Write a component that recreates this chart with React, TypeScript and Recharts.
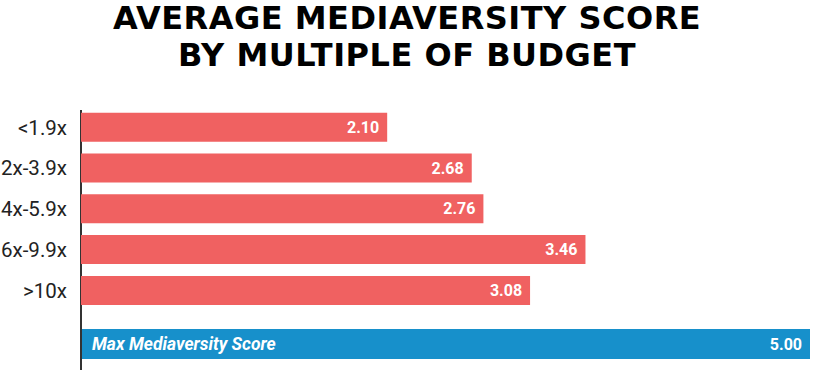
import { Bar, BarChart, LabelList, XAxis, YAxis } from 'recharts';

const categories = ['<1.9x', '2x-3.9x', '4x-5.9x', '6x-9.9x', '>10x'];
const scores = [2.1, 2.68, 2.76, 3.46, 3.08];
const maxLabel = 'Max Mediaversity Score';
const maxScore = 5.0;
const titleLines = ['AVERAGE MEDIAVERSITY SCORE', 'BY MULTIPLE OF BUDGET'];

const RED = '#f06161';
const BLUE = '#1790cb';

const budgetData = categories.map((name, i) => ({ name, value: scores[i] }));
const maxData = [{ name: maxLabel, value: maxScore }];

const fmt = (v: any) => Number(v).toFixed(2);

export default function App() {
  return (
    <div style={{ position: 'absolute', left: 0, top: 0, width: 816, height: 370, background: '#fff', overflow: 'hidden' }}>
      <div
        style={{
          position: 'absolute',
          left: 0,
          top: 0,
          width: 814,
          textAlign: 'center',
          fontFamily: '"DejaVu Sans", sans-serif',
          fontWeight: 700,
          fontSize: 32,
          lineHeight: '37px',
          letterSpacing: 0.5,
          color: '#000',
        }}
      >
        {titleLines.map((t) => (
          <div key={t}>{t}</div>
        ))}
      </div>

      {/* max score bar, its axis line runs the full height */}
      <div style={{ position: 'absolute', left: 0, top: 110 }}>
        <BarChart width={816} height={260} data={maxData} layout="vertical" margin={{ top: 0, right: 6, bottom: 0, left: 0 }}>
          <XAxis type="number" domain={[0, 5]} hide />
          <YAxis
            type="category"
            dataKey="name"
            width={81}
            axisLine={{ stroke: '#333', strokeWidth: 2 }}
            tickLine={false}
            tick={false}
            padding={{ top: 209, bottom: 1 }}
          />
          <Bar dataKey="value" fill={BLUE} barSize={30} isAnimationActive={false}>
            <LabelList
              dataKey="name"
              position="insideLeft"
              offset={11}
              fill="#fff"
              style={{ fontFamily: 'Roboto, sans-serif', fontSize: 17.5, fontWeight: 700, fontStyle: 'italic' }}
            />
            <LabelList
              dataKey="value"
              position="insideRight"
              offset={8}
              formatter={fmt}
              fill="#fff"
              style={{ fontFamily: 'Roboto, sans-serif', fontSize: 16, fontWeight: 700 }}
            />
          </Bar>
        </BarChart>
      </div>

      <div style={{ position: 'absolute', left: 0, top: 107 }}>
        <BarChart width={816} height={204} data={budgetData} layout="vertical" barCategoryGap="14%" margin={{ top: 0, right: 6, bottom: 0, left: 0 }}>
          <XAxis type="number" domain={[0, 5]} hide />
          <YAxis
            type="category"
            dataKey="name"
            width={81}
            axisLine={false}
            tickLine={false}
            tickSize={0}
            tickMargin={14}
            tick={{ fill: '#222', fontSize: 20.5, fontFamily: 'Roboto, sans-serif' }}
          />
          <Bar dataKey="value" fill={RED} isAnimationActive={false}>
            <LabelList
              dataKey="value"
              position="insideRight"
              offset={8}
              formatter={fmt}
              fill="#fff"
              style={{ fontFamily: 'Roboto, sans-serif', fontSize: 16, fontWeight: 700 }}
            />
          </Bar>
        </BarChart>
      </div>
    </div>
  );
}
